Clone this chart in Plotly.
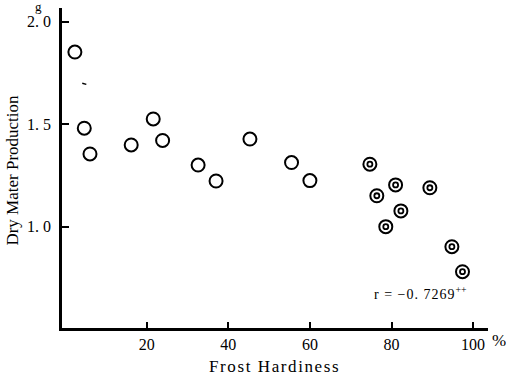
import plotly.graph_objects as go

# Frost hardiness (%) vs dry matter production (g)
open_x = [2.4, 4.7, 6.1, 16.2, 21.6, 23.9, 32.6, 37.0, 45.3, 55.5, 60.0]
open_y = [1.853, 1.481, 1.355, 1.399, 1.526, 1.421, 1.301, 1.223, 1.428, 1.313, 1.225]

double_x = [74.7, 81.0, 76.4, 89.4, 82.3, 78.6, 94.8, 97.4]
double_y = [1.305, 1.204, 1.151, 1.190, 1.077, 1.000, 0.902, 0.780]

x_ticks = [20, 40, 60, 80, 100]
y_ticks = [1.0, 1.5, 2.0]
y_tick_text = ["1. 0", "1. 5", "2. 0"]

serif = "Liberation Serif"
ink = "black"

fig = go.Figure()
fig.add_trace(go.Scatter(
    x=open_x, y=open_y, mode="markers",
    marker=dict(symbol="circle-open", size=13, color=ink, line=dict(width=2, color=ink)),
    showlegend=False,
))
fig.add_trace(go.Scatter(
    x=double_x, y=double_y, mode="markers",
    marker=dict(symbol="circle-open", size=13, color=ink, line=dict(width=2, color=ink)),
    showlegend=False,
))
fig.add_trace(go.Scatter(
    x=double_x, y=double_y, mode="markers",
    marker=dict(symbol="circle-open", size=5, color=ink, line=dict(width=1.8, color=ink)),
    showlegend=False,
))

# y tick labels placed at the y-axis tick values, right-aligned a few px left of the axis line
y_labels = [
    dict(text=t, x=-0.021, y=v, xref="paper", yref="y", showarrow=False,
         font=dict(size=16), xanchor="right", yanchor="middle")
    for v, t in zip(y_ticks, y_tick_text)
]

fig.update_layout(
    width=506, height=381,
    margin=dict(l=62, r=18, t=8, b=53),
    paper_bgcolor="white", plot_bgcolor="white",
    font=dict(family=serif, color=ink),
    xaxis=dict(
        range=[-0.76, 103.65], tickvals=x_ticks, ticks="inside", ticklen=6,
        tickwidth=1.5, tickcolor=ink, showline=True, linewidth=2.5, linecolor=ink,
        showgrid=False, zeroline=False, tickfont=dict(size=16, family=serif),
    ),
    yaxis=dict(
        range=[0.505, 2.068], tickvals=y_ticks, ticks="inside",
        ticklen=7, tickwidth=1.5, tickcolor=ink, showline=True, linewidth=2.5,
        linecolor=ink, showgrid=False, zeroline=False, showticklabels=False,
    ),
    annotations=y_labels + [
        dict(text='<span style="letter-spacing:1.6px">Frost Hardiness</span>',
             x=0.499, y=-0.119, xref="paper", yref="paper",
             showarrow=False, font=dict(size=17), xanchor="center", yanchor="middle"),
        dict(text="%", x=1.0, y=-0.04, xref="paper", yref="paper", xshift=2,
             showarrow=False, font=dict(size=17), xanchor="left", yanchor="middle"),
        dict(text="Dry Mater Production", x=-0.115, y=0.492, xref="paper", yref="paper",
             showarrow=False, textangle=-90, font=dict(size=17), xanchor="center", yanchor="middle"),
        dict(text="g", x=-0.056, y=1.0, xref="paper", yref="paper",
             showarrow=False, font=dict(size=13), xanchor="center", yanchor="bottom",
             yshift=-8),
        dict(text='<span style="letter-spacing:1px">r = −0. 7269</span><sup>++</sup>',
             x=0.955, y=0.109, xref="paper", yref="paper",
             showarrow=False, font=dict(size=14), xanchor="right", yanchor="middle"),
    ],
    shapes=[
        dict(type="line", x0=4.2, x1=5.2, y0=1.700, y1=1.695, xref="x", yref="y",
             line=dict(color=ink, width=1.5)),
    ],
)

fig.write_html("out.html")
